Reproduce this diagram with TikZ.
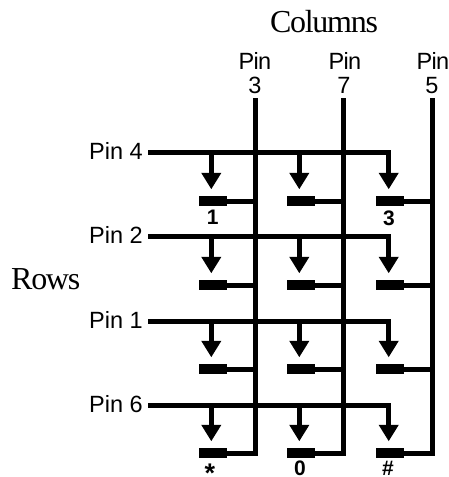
\documentclass[tikz,border=0pt]{standalone}
\usepackage{fontspec}
\setmainfont{Liberation Serif}
\setsansfont{Liberation Sans}
\newfontfamily\headfont[LetterSpace=-4]{Liberation Serif}
\newfontfamily\pinfont[LetterSpace=-3]{Liberation Sans}
\usetikzlibrary{arrows.meta}
\tikzset{
  wire/.style={draw=black,line width=5pt,line cap=butt,line join=miter},
  tapwire/.style={wire,-{Triangle[width=19pt,length=16.5pt]},shorten >=6.5pt},
  contact/.style={fill=black,inner sep=0pt,minimum width=28pt,minimum height=10pt},
  serifhead/.style={font=\fontsize{32}{32}\selectfont\headfont,anchor=base,inner sep=0pt},
  pinlabel/.style={font=\fontsize{23.5}{24}\selectfont\sffamily,anchor=base,inner sep=0pt},
  colpin/.style={font=\fontsize{23.5}{24}\selectfont\pinfont,anchor=base,inner sep=0pt},
  keylabel/.style={font=\fontsize{21}{21}\selectfont\sffamily\bfseries,anchor=base,inner sep=0pt}
}
\begin{document}
\begin{tikzpicture}[x=1pt,y=-1pt]
\useasboundingbox (0,0) rectangle (449,477);
% headings
\node[serifhead] (columns) at (324,32) {Columns};
\node[serifhead,anchor=base west] (rows) at (11,289) {Rows};
% column pin labels
\node[colpin] (p3a) at (255,69) {Pin};
\node[colpin] (p3b) at (255,93) {3};
\node[colpin] (p7a) at (345,69) {Pin};
\node[colpin] (p7b) at (344,93) {7};
\node[colpin] (p5a) at (433,69) {Pin};
\node[colpin] (p5b) at (432,93) {5};
% row pin labels
\node[pinlabel,anchor=base east] (p4) at (143,159.5) {Pin 4};
\node[pinlabel,anchor=base east] (p2) at (143,243.5) {Pin 2};
\node[pinlabel,anchor=base east] (p1) at (143,328) {Pin 1};
\node[pinlabel,anchor=base east] (p6) at (143,412) {Pin 6};
% free ends
\coordinate (c1) at (255.3,98);
\coordinate (c2) at (343.3,98);
\coordinate (c3) at (432,98);
\coordinate (r1) at (148,152.7);
\coordinate (r2) at (148,236.7);
\coordinate (r3) at (148,321);
\coordinate (r4) at (148,405);
\coordinate (d1) at (211.3,0);
\coordinate (d2) at (299.3,0);
\coordinate (d3) at (388.7,0);
% contacts
\foreach \rw/\yy in {1/201,2/285,3/369,4/453}{
  \node[contact] (b\rw a) at (213,\yy) {};
  \node[contact] (b\rw b) at (301,\yy) {};
  \node[contact] (b\rw c) at (389.7,\yy) {};
}
% columns: full-length wire ends on the bottom contact
\draw[wire] (c1) |- (b4a.east);
\draw[wire] (c2) |- (b4b.east);
\draw[wire] (c3) |- (b4c.east);
\foreach \rw in {1,2,3}{
  \draw[wire] (b\rw a.east) -- (b\rw a.east -| c1);
  \draw[wire] (b\rw b.east) -- (b\rw b.east -| c2);
  \draw[wire] (b\rw c.east) -- (b\rw c.east -| c3);
}
% rows
\foreach \rw in {1,2,3,4}{
  \draw[tapwire] (r\rw) -| (d3 |- b\rw c.north);
  \draw[tapwire] (d1 |- r\rw) -- (d1 |- b\rw a.north);
  \draw[tapwire] (d2 |- r\rw) -- (d2 |- b\rw b.north);
}
% key labels
\node[keylabel] (k1) at (212.7,224.5) {1};
\node[keylabel] (k3) at (389,225) {3};
\node[keylabel,font=\fontsize{27}{27}\selectfont\sffamily\bfseries] (kstar) at (210,482) {*};
\node[keylabel] (k0) at (300,475.5) {0};
\node[keylabel] (khash) at (388,475.5) {\#};
\end{tikzpicture}
\end{document}
